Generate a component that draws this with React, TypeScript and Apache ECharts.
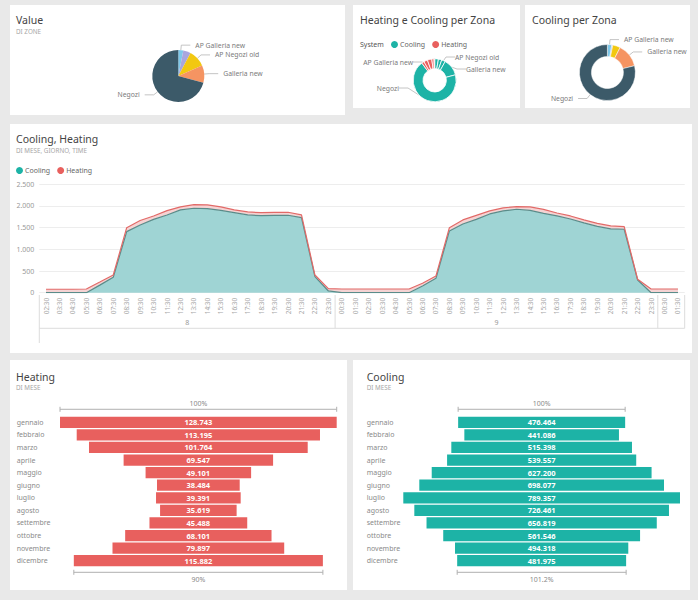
import React, { useEffect, useRef } from 'react';
import * as echarts from 'echarts';

// ---------- DATA ----------
const zones = ['AP Galleria new', 'AP Negozi new', 'AP Negozi old', 'Galleria new', 'Negozi'];
const zoneColors = ['#7DC8EA', '#A9A6DE', '#F2C811', '#F59462', '#3C5A69'];
const valueByZone = [3.1, 4.7, 10.6, 10.8, 70.8];
const pie1Labelled = ['AP Galleria new', 'AP Negozi old', 'Galleria new', 'Negozi'];

const systems = ['Cooling', 'Heating'];
const coolingByZone = [2.8, 2.5, 2.8, 12.8, 68.9];
const heatingByZone = [1.9, 2.8, 3.3, 1.7, 0.5];
const pie2CoolingLabelled = ['AP Negozi old', 'Galleria new', 'Negozi'];
const pie2HeatingLabelled = ['AP Galleria new'];

const coolingPerZona = [2.5, 0.6, 4.4, 13.6, 78.9];
const pie3Labelled = ['AP Galleria new', 'Galleria new', 'Negozi'];

const days = ['8', '9', '10'];
const day8Times = ['02:30', '03:30', '04:30', '05:30', '06:30', '07:30', '08:30', '09:30', '10:30', '11:30', '12:30', '13:30', '14:30', '15:30', '16:30', '17:30', '18:30', '19:30', '20:30', '21:30', '22:30', '23:30'];
const day9Times = ['00:30', '01:30', '02:30', '03:30', '04:30', '05:30', '06:30', '07:30', '08:30', '09:30', '10:30', '11:30', '12:30', '13:30', '14:30', '15:30', '16:30', '17:30', '18:30', '19:30', '20:30', '21:30', '22:30', '23:30'];
const day10Times = ['00:30', '01:30'];

const coolingSeries = [
  0, 0, 0, 0, 175, 355, 1408, 1562, 1690, 1793, 1909, 1948, 1939, 1897, 1846, 1793, 1777, 1782, 1786, 1731, 369, 40,
  0, 0, 0, 0, 0, 0, 155, 332, 1424, 1585, 1690, 1816, 1886, 1925, 1897, 1828, 1770, 1700, 1610, 1528, 1470, 1463, 293, 0,
  0, 0,
];
const heatingSeries = [
  80, 80, 80, 85, 70, 53, 92, 104, 80, 100, 69, 83, 85, 81, 63, 69, 69, 69, 69, 62, 39, 55,
  85, 85, 85, 85, 85, 85, 62, 53, 76, 93, 92, 70, 69, 60, 81, 92, 69, 70, 68, 69, 70, 60, 17, 85,
  85, 85,
];
const yTicks = [0, 500, 1000, 1500, 2000, 2500];

const months = ['gennaio', 'febbraio', 'marzo', 'aprile', 'maggio', 'giugno', 'luglio', 'agosto', 'settembre', 'ottobre', 'novembre', 'dicembre'];
const heatingByMonth = [128743, 113195, 101764, 69547, 49101, 38484, 39391, 35619, 45488, 68101, 79897, 115882];
const coolingByMonth = [476464, 441086, 515398, 539557, 627200, 698077, 789357, 726461, 656819, 561546, 494318, 481975];

// ---------- STYLE / LAYOUT ----------
const FONT = '"Noto Sans", "Open Sans", sans-serif';
const TEAL = '#1DB3A6';
const RED = '#E8605E';
const panels = [
  { x: 10, y: 5, w: 335, h: 110 },
  { x: 353, y: 5, w: 167, h: 103 },
  { x: 525, y: 5, w: 165, h: 103 },
  { x: 10, y: 124, w: 682, h: 229 },
  { x: 10, y: 360, w: 337, h: 230 },
  { x: 353, y: 360, w: 337, h: 230 },
];
// label anchors for the donut "Heating e Cooling per Zona" (by data index)
const pie2LabelPos: Record<number, { x: number; y: number; align: string }> = {
  2: { x: 455, y: 57, align: 'left' },
  3: { x: 466, y: 69, align: 'left' },
  4: { x: 399, y: 88, align: 'right' },
  5: { x: 413, y: 62, align: 'right' },
};

function fmtIt(n: number): string {
  return String(Math.round(n)).replace(/\B(?=(\d{3})+(?!\d))/g, '.');
}
function fmtPct(r: number): string {
  return (r * 100).toFixed(1).replace(/\.0$/, '') + '%';
}

const dayTimes = [day8Times, day9Times, day10Times];
const categories = days.flatMap((d, k) => dayTimes[k].map((t) => `${d}|${t}`));

const heatMax = Math.max(...heatingByMonth);
const coolMax = Math.max(...coolingByMonth);

const pieLabel = { fontSize: 6.8, color: '#7a7a7a', fontFamily: FONT };
const pieLine = { length: 5, length2: 9, lineStyle: { color: '#b5b5b5', width: 0.8 } };

function buildOption(): any {
  const pie1Data = zones.map((z, i) => ({
    name: z,
    value: valueByZone[i],
    itemStyle: { color: zoneColors[i] },
    label: { show: pie1Labelled.includes(z) },
    labelLine: { show: pie1Labelled.includes(z) },
  }));
  const pie2Data = [
    ...zones.map((z, i) => ({
      name: z,
      value: coolingByZone[i],
      itemStyle: { color: TEAL },
      label: { show: pie2CoolingLabelled.includes(z) },
      labelLine: { show: pie2CoolingLabelled.includes(z) },
    })),
    ...zones.map((z, i) => ({
      name: z,
      value: heatingByZone[i],
      itemStyle: { color: RED },
      label: { show: pie2HeatingLabelled.includes(z) },
      labelLine: { show: pie2HeatingLabelled.includes(z) },
    })),
  ];
  const pie3Data = zones.map((z, i) => ({
    name: z,
    value: coolingPerZona[i],
    itemStyle: { color: zoneColors[i] },
    label: { show: pie3Labelled.includes(z) },
    labelLine: { show: pie3Labelled.includes(z) },
  }));

  const legendBase = {
    data: systems,
    icon: 'circle',
    itemWidth: 7,
    itemHeight: 7,
    itemGap: 7,
    selectedMode: false,
    textStyle: { fontSize: 7, color: '#666', fontFamily: FONT, padding: [0, 0, 0, -3] },
  };

  const funnelLabel = {
    show: true,
    position: 'inside',
    formatter: (p: any) => fmtIt(p.value),
    color: '#fff',
    fontSize: 7.5,
    fontWeight: 'bold',
    fontFamily: FONT,
  };

  return {
    animation: false,
    backgroundColor: 'transparent',
    textStyle: { fontFamily: FONT },
    legend: [
      { ...legendBase, left: 11, top: 162 },
      { ...legendBase, left: 386, top: 36 },
    ],
    grid: [
      { left: 39.3, right: 13.3, top: 184.3, height: 108.4 },
      { left: 60, width: 276.7, top: 416, height: 151 },
      { left: 403.3, width: 276.7, top: 416, height: 151 },
    ],
    xAxis: [
      {
        gridIndex: 0,
        type: 'category',
        data: categories,
        boundaryGap: true,
        axisLine: { show: false },
        axisTick: { show: false },
        axisLabel: {
          interval: 0,
          rotate: 90,
          fontSize: 6.5,
          color: '#a8a8a8',
          margin: 5,
          formatter: (v: string) => v.split('|')[1],
        },
      },
      { gridIndex: 1, type: 'value', min: 0, max: heatMax, show: false },
      { gridIndex: 2, type: 'value', min: 0, max: coolMax, show: false },
    ],
    yAxis: [
      {
        gridIndex: 0,
        type: 'value',
        min: yTicks[0],
        max: yTicks[yTicks.length - 1],
        interval: yTicks[1] - yTicks[0],
        axisLine: { show: false },
        axisTick: { show: false },
        axisLabel: { fontSize: 7, color: '#999', margin: 5, formatter: (v: number) => fmtIt(v) },
        splitLine: { lineStyle: { color: '#ededed' } },
      },
      {
        gridIndex: 1,
        type: 'category',
        data: months,
        inverse: true,
        axisLine: { show: false },
        axisTick: { show: false },
        axisLabel: { align: 'left', margin: 43.3, fontSize: 7, color: '#8a8a8a' },
      },
      {
        gridIndex: 2,
        type: 'category',
        data: months,
        inverse: true,
        axisLine: { show: false },
        axisTick: { show: false },
        axisLabel: { align: 'left', margin: 36.6, fontSize: 7, color: '#8a8a8a' },
      },
    ],
    series: [
      {
        name: 'Cooling',
        type: 'line',
        xAxisIndex: 0,
        yAxisIndex: 0,
        stack: 'sys',
        data: coolingSeries,
        symbol: 'none',
        itemStyle: { color: TEAL },
        lineStyle: { color: '#5a8c8a', width: 1.2 },
        areaStyle: { color: '#9fd4d4', opacity: 1 },
      },
      {
        name: 'Heating',
        type: 'line',
        xAxisIndex: 0,
        yAxisIndex: 0,
        stack: 'sys',
        data: heatingSeries,
        symbol: 'none',
        itemStyle: { color: RED },
        lineStyle: { color: '#e26a68', width: 1.2 },
        areaStyle: { color: '#f5d3d3', opacity: 1 },
      },
      {
        type: 'bar',
        xAxisIndex: 1,
        yAxisIndex: 1,
        stack: 'heatFunnel',
        silent: true,
        barCategoryGap: '10%',
        itemStyle: { color: 'transparent' },
        data: heatingByMonth.map((v) => (heatMax - v) / 2),
      },
      {
        type: 'bar',
        xAxisIndex: 1,
        yAxisIndex: 1,
        stack: 'heatFunnel',
        barCategoryGap: '10%',
        itemStyle: { color: RED },
        label: funnelLabel,
        data: heatingByMonth,
      },
      {
        type: 'bar',
        xAxisIndex: 2,
        yAxisIndex: 2,
        stack: 'coolFunnel',
        silent: true,
        barCategoryGap: '10%',
        itemStyle: { color: 'transparent' },
        data: coolingByMonth.map((v) => (coolMax - v) / 2),
      },
      {
        type: 'bar',
        xAxisIndex: 2,
        yAxisIndex: 2,
        stack: 'coolFunnel',
        barCategoryGap: '10%',
        itemStyle: { color: TEAL },
        label: funnelLabel,
        data: coolingByMonth,
      },
      {
        type: 'pie',
        center: [178.3, 76],
        radius: 26,
        data: pie1Data,
        label: pieLabel,
        labelLine: pieLine,
      },
      {
        type: 'pie',
        center: [434.7, 80.3],
        radius: [11.7, 21.5],
        data: pie2Data,
        itemStyle: { borderColor: '#fff', borderWidth: 0.8 },
        label: pieLabel,
        labelLine: pieLine,
        labelLayout: (p: any) => {
          const pos = pie2LabelPos[p.dataIndex];
          return pos ? { x: pos.x, y: pos.y, align: pos.align, verticalAlign: 'middle' } : {};
        },
      },
      {
        type: 'pie',
        center: [607.4, 72.5],
        radius: [16, 28],
        data: pie3Data,
        itemStyle: { borderColor: '#fff', borderWidth: 0.5 },
        label: pieLabel,
        labelLine: pieLine,
      },
    ],
  };
}

function text(x: number, y: number, t: string, size: number, color: string, align = 'left'): any {
  return {
    type: 'text',
    x,
    y,
    z: 10,
    style: { text: t, fontSize: size, fill: color, fontFamily: FONT, align, verticalAlign: 'middle' },
  };
}
function line(x1: number, y1: number, x2: number, y2: number, color = '#dcdcdc'): any {
  return { type: 'line', z: 10, shape: { x1, y1, x2, y2 }, style: { stroke: color, lineWidth: 1 } };
}

function buildGraphics(chart: any): any[] {
  const g: any[] = [];
  const TITLE = '#444';
  const SUB = '#a6a6a6';
  g.push(text(16, 20, 'Value', 10.5, TITLE));
  g.push(text(16, 31.7, 'DI ZONE', 6.3, SUB));
  g.push(text(360, 20, 'Heating e Cooling per Zona', 10.5, TITLE));
  g.push(text(360, 44.5, 'System', 7, '#555'));
  g.push(text(532, 20, 'Cooling per Zona', 10.5, TITLE));
  g.push(text(16, 138.7, 'Cooling, Heating', 10.5, TITLE));
  g.push(text(16, 150, 'DI MESE, GIORNO, TIME', 6.3, SUB));
  g.push(text(16, 376.7, 'Heating', 10.5, TITLE));
  g.push(text(16, 387.7, 'DI MESE', 6.3, SUB));
  g.push(text(366.7, 376.7, 'Cooling', 10.5, TITLE));
  g.push(text(366.7, 387.7, 'DI MESE', 6.3, SUB));

  // hierarchical x axis (days)
  const px = (i: number) => chart.convertToPixel({ xAxisIndex: 0 }, i);
  const band = px(1) - px(0);
  const yTop = 295;
  const yMid = 328.3;
  const left = px(0) - band / 2;
  const right = px(categories.length - 1) + band / 2;
  g.push(line(left, yTop, left, 343));
  g.push(line(left, yMid, right, yMid));
  let start = 0;
  days.forEach((d, k) => {
    const end = start + dayTimes[k].length - 1;
    const bx = px(end) + band / 2;
    g.push(line(bx, yTop, bx, yMid));
    // the last day is cut off by the scroll: its label lies outside the view
    if (k < days.length - 1) g.push(text((px(start) + px(end)) / 2, 322.3, d, 7, '#999', 'center'));
    start = end + 1;
  });

  // funnel brackets
  const funnels = [
    { xi: 1, yi: 1, vals: heatingByMonth, max: heatMax },
    { xi: 2, yi: 2, vals: coolingByMonth, max: coolMax },
  ];
  funnels.forEach((f) => {
    const first = f.vals[0];
    const last = f.vals[f.vals.length - 1];
    const rows = [
      { v: first, idx: 0, dy: -13, ty: -5.3, label: '100%' },
      { v: last, idx: f.vals.length - 1, dy: 11.6, ty: 6.7, label: fmtPct(last / first) },
    ];
    rows.forEach((r) => {
      const o = (f.max - r.v) / 2;
      const x1 = chart.convertToPixel({ xAxisIndex: f.xi }, o);
      const x2 = chart.convertToPixel({ xAxisIndex: f.xi }, o + r.v);
      const yc = chart.convertToPixel({ yAxisIndex: f.yi }, r.idx);
      const y = yc + r.dy;
      g.push(line(x1, y, x2, y, '#b0b0b0'));
      g.push(line(x1, y - 2.5, x1, y + 2.5, '#b0b0b0'));
      g.push(line(x2, y - 2.5, x2, y + 2.5, '#b0b0b0'));
      g.push(text((x1 + x2) / 2, y + r.ty, r.label, 7, '#8a8a8a', 'center'));
    });
  });
  return g;
}

export default function App() {
  const ref = useRef<HTMLDivElement>(null);
  useEffect(() => {
    if (!ref.current) return;
    const chart = echarts.init(ref.current, null, { renderer: 'svg' });
    chart.setOption(buildOption());
    chart.setOption({ graphic: buildGraphics(chart) });
    return () => chart.dispose();
  }, []);
  return (
    <div style={{ position: 'fixed', left: 0, top: 0, width: 698, height: 600, background: '#e9e9e9', overflow: 'hidden' }}>
      {panels.map((p, i) => (
        <div key={i} style={{ position: 'absolute', left: p.x, top: p.y, width: p.w, height: p.h, background: '#fff' }} />
      ))}
      <div ref={ref} style={{ position: 'absolute', left: 0, top: 0, width: 698, height: 600 }} />
    </div>
  );
}
